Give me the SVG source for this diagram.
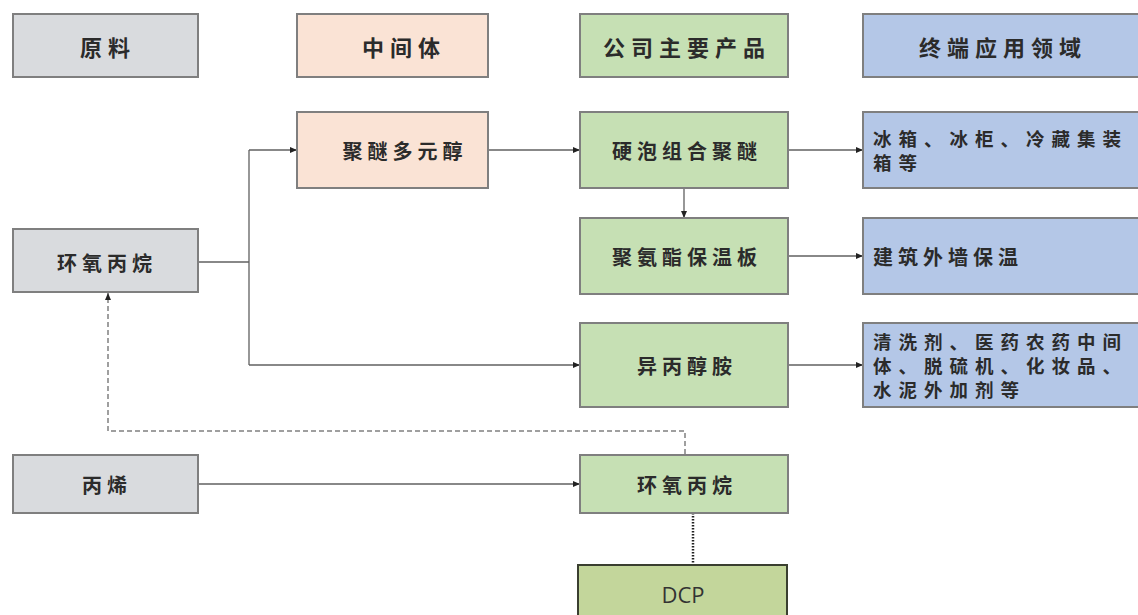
<svg xmlns="http://www.w3.org/2000/svg" width="1138" height="615" viewBox="0 0 1138 615">
<style>
.box{stroke:#7f7f7f;stroke-width:2}
.gray{fill:#d9dbde}
.peach{fill:#fae3d5}
.green{fill:#c6e0b4}
.blue{fill:#b4c7e7}
.dcp{fill:#c3d69b;stroke:#3a3f30;stroke-width:2}
.t{font-family:"Noto Sans CJK SC","Noto Sans",sans-serif;font-weight:700;fill:#2b2b2b;text-anchor:middle;dominant-baseline:central}
.h{font-size:22px;letter-spacing:6px}
.b{font-size:20px;letter-spacing:5px}
.m{font-size:18.5px;letter-spacing:7px}
.l{text-anchor:start}
.c{fill:none;stroke:#606060;stroke-width:1.3}
.dash{fill:none;stroke:#808080;stroke-width:1.5;stroke-dasharray:5 3}
.dot{fill:none;stroke:#222;stroke-width:2.5;stroke-dasharray:1.5 1.5}
</style>
<defs>
<marker id="ah" markerWidth="8" markerHeight="8" refX="7" refY="4" orient="auto" markerUnits="userSpaceOnUse">
<path d="M0,1 L7,4 L0,7 Z" fill="#222"/>
</marker>
</defs>
<rect width="1138" height="615" fill="#ffffff"/>

<g id="connectors">
<path class="c" d="M198,262 H249"/>
<path class="c" d="M249,150 V365"/>
<path class="c" d="M249,150 H297" marker-end="url(#ah)"/>
<path class="c" d="M249,365 H580" marker-end="url(#ah)"/>
<path class="c" d="M488,150 H580" marker-end="url(#ah)"/>
<path class="c" d="M788,150 H863" marker-end="url(#ah)"/>
<path class="c" d="M684,188 V218" marker-end="url(#ah)"/>
<path class="c" d="M788,256 H863" marker-end="url(#ah)"/>
<path class="c" d="M788,365 H863" marker-end="url(#ah)"/>
<path class="c" d="M198,484 H580" marker-end="url(#ah)"/>
<path class="dash" d="M685,454 V431 H108 V293" marker-end="url(#ah)"/>
<path class="dot" d="M693,513 V565"/>
</g>

<g id="h-raw"><rect class="box gray" x="13" y="14" width="185" height="63"/><text class="t h" x="108" y="46">原料</text></g>
<g id="h-mid"><rect class="box peach" x="297" y="14" width="191" height="63"/><text class="t h" x="404" y="46">中间体</text></g>
<g id="h-prod"><rect class="box green" x="580" y="14" width="208" height="63"/><text class="t h" x="687" y="46">公司主要产品</text></g>
<g id="h-app"><rect class="box blue" x="863" y="14" width="280" height="63"/><text class="t h" x="1003" y="46">终端应用领域</text></g>

<g id="n-polyether"><rect class="box peach" x="297" y="112" width="191" height="76"/><text class="t b" x="405" y="150">聚醚多元醇</text></g>
<g id="n-rigid"><rect class="box green" x="580" y="112" width="208" height="76"/><text class="t b" x="687" y="150">硬泡组合聚醚</text></g>
<g id="n-fridge"><rect class="box blue" x="863" y="112" width="280" height="76"/><text class="t m l" x="873"><tspan x="873" y="138">冰箱、冰柜、冷藏集装</tspan><tspan x="873" y="162">箱等</tspan></text></g>

<g id="n-po-left"><rect class="box gray" x="13" y="229" width="185" height="63"/><text class="t b" x="107" y="262">环氧丙烷</text></g>
<g id="n-pu"><rect class="box green" x="580" y="218" width="208" height="76"/><text class="t b" x="687" y="256">聚氨酯保温板</text></g>
<g id="n-wall"><rect class="box blue" x="863" y="218" width="280" height="76"/><text class="t b l" x="873" y="256">建筑外墙保温</text></g>

<g id="n-ipa"><rect class="box green" x="580" y="323" width="208" height="84"/><text class="t b" x="687" y="365">异丙醇胺</text></g>
<g id="n-clean"><rect class="box blue" x="863" y="323" width="280" height="84"/><text class="t m l" x="873"><tspan x="873" y="341">清洗剂、医药农药中间</tspan><tspan x="873" y="365">体、脱硫机、化妆品、</tspan><tspan x="873" y="389">水泥外加剂等</tspan></text></g>

<g id="n-propylene"><rect class="box gray" x="13" y="455" width="185" height="58"/><text class="t b" x="107" y="484">丙烯</text></g>
<g id="n-po-green"><rect class="box green" x="580" y="455" width="208" height="58"/><text class="t b" x="687" y="484">环氧丙烷</text></g>

<g id="n-dcp"><rect class="dcp" x="578" y="565" width="209" height="60"/><text x="683" y="594" font-family="'Open Sans','Liberation Sans',sans-serif" font-size="22" fill="#333" text-anchor="middle" dominant-baseline="central">DCP</text></g>
</svg>
